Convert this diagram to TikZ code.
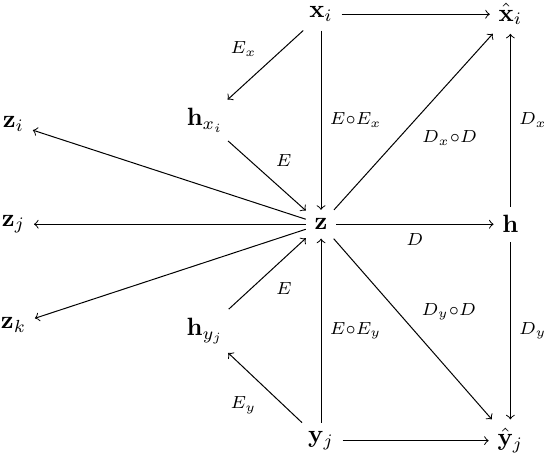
\documentclass[tikz,border=0pt]{standalone}
\usepackage{amsmath, amssymb}
\usepackage{tikz}
\usetikzlibrary{positioning}

\begin{document}
\begin{tikzpicture}[>=to, lbl/.style={execute at begin node=$\scriptstyle, execute at end node=$}]
  \useasboundingbox (-4.51,-3.29) rectangle (3.16,3.15);
  % Nodes
  \node (z) at (0,0) {$\mathbf{z}$};
  \node (h) at (2.66,0) {$\mathbf{h}$};
  \node (xi) at (0,2.95) {$\mathbf{x}_i$};
  \node (xhi) at (2.66,2.95) {$\hat{\mathbf{x}}_i$};
  \node (yj) at (0,-3.04) {$\mathbf{y}_j$};
  \node (yhj) at (2.66,-3.04) {$\hat{\mathbf{y}}_j$};
  \node (hx) at (-1.63,1.46) {$\mathbf{h}_{x_i}$};
  \node (hy) at (-1.63,-1.50) {$\mathbf{h}_{y_j}$};
  \foreach \n/\y in {i/1.41, j/0, k/-1.42} {
    \node (z\n) at (-4.32,\y) {$\mathbf{z}_\n$};
  }
  % Edges
  \draw[->] (xi) -- (xhi);
  \draw[->] (yj) -- (yhj);
  \draw[->] (xi) -- node[lbl, above left] {E_x} (hx);
  \draw[->] (yj) -- node[lbl, below left] {E_y} (hy);
  \draw[->] (hx) -- node[lbl, above right] {E} (z);
  \draw[->] (hy) -- node[lbl, below right] {E} (z);
  \draw[->] (xi) -- node[lbl, right] {E\circ E_x} (z);
  \draw[->] (yj) -- node[lbl, right] {E\circ E_y} (z);
  \draw[->] (z) -- node[lbl, below] {D} (h);
  \draw[->] (z) -- node[lbl, below right] {D_x\circ D} (xhi);
  \draw[->] (z) -- node[lbl, above right] {D_y\circ D} (yhj);
  \draw[->] (h) -- node[lbl, right] {D_x} (xhi);
  \draw[->] (h) -- node[lbl, right] {D_y} (yhj);
  \foreach \n in {i,j,k} {
    \draw[->] (z) -- (z\n);
  }
\end{tikzpicture}
\end{document}
